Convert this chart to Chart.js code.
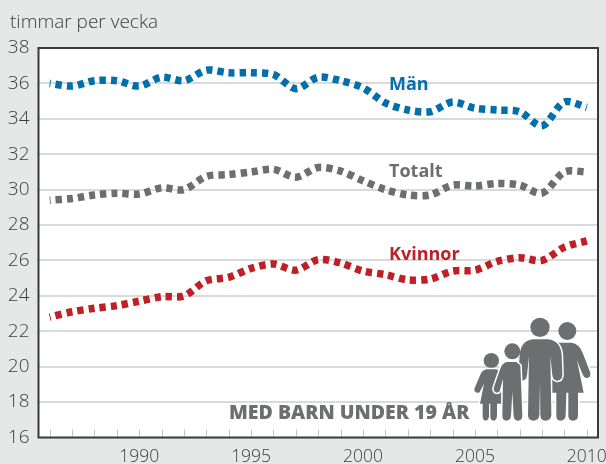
<!DOCTYPE html>
<html><head><meta charset="utf-8">
<style>html,body{margin:0;padding:0;background:#e6e7e7}canvas{display:block}</style>
<script src="https://cdn.jsdelivr.net/npm/chart.js@4"></script>
</head><body><div style="width:606px;height:464px"><canvas id="c" width="606" height="464"></canvas></div>
<script>
const years=[1986,1987,1988,1989,1990,1991,1992,1993,1994,1995,1996,1997,1998,1999,2000,2001,2002,2003,2004,2005,2006,2007,2008,2009,2010];
const man=[36.0,35.85,36.15,36.15,35.85,36.35,36.15,36.75,36.6,36.6,36.5,35.7,36.35,36.15,35.75,34.9,34.5,34.4,34.95,34.6,34.5,34.4,33.6,34.95,34.65];
const totalt=[29.4,29.5,29.7,29.8,29.75,30.1,30.0,30.75,30.85,31.0,31.15,30.7,31.25,31.05,30.5,30.0,29.7,29.7,30.25,30.2,30.35,30.25,29.8,31.0,31.0];
const kvinnor=[22.8,23.1,23.3,23.45,23.7,23.95,24.0,24.85,25.05,25.55,25.8,25.45,26.05,25.85,25.4,25.2,24.9,24.95,25.4,25.45,25.95,26.15,26.0,26.75,27.1];
const BLUE='#0070ac',GRAY='#6d6e70',RED='#bd2025';
const FONT='"Open Sans"';
function ds(label,data,color){return {label,data,borderColor:color,borderWidth:7.5,borderDash:[6.2,5],borderDashOffset:5.2,borderCapStyle:'butt',pointRadius:0,tension:0.3,fill:false};}
function person(ctx,head,body){
  ctx.beginPath();ctx.arc(head[0],head[1],head[2],0,Math.PI*2);ctx.fill();
  const p=new Path2D(body);
  ctx.save();ctx.strokeStyle='#fff';ctx.lineWidth=9;ctx.lineJoin='round';ctx.stroke(p);ctx.restore();
  ctx.fill(p);
}
const decor={id:'decor',
 beforeDraw(ch){const c=ch.ctx,a=ch.chartArea;c.save();c.fillStyle='#fff';c.fillRect(a.left,a.top,a.right-a.left,a.bottom-a.top);c.restore();},
 afterDatasetsDraw(ch){const c=ch.ctx,a=ch.chartArea,sx=ch.scales.x;c.save();
  c.strokeStyle='#c4c5c7';c.lineWidth=1;
  years.forEach((y,i)=>{const px=Math.round(sx.getPixelForTick(i))+0.5;c.beginPath();c.moveTo(px,a.bottom-8);c.lineTo(px,a.bottom);c.stroke();});
  c.strokeStyle='#3a3a3c';c.lineWidth=2;c.strokeRect(a.left,a.top,a.right-a.left,a.bottom-a.top);
  c.textBaseline='middle';c.textAlign='left';
  c.font='bold 18px '+FONT;
  c.fillStyle=BLUE;c.fillText('Män',389,85);
  c.fillStyle=GRAY;c.fillText('Totalt',389,172);
  c.fillStyle=RED;c.fillText('Kvinnor',389,255);
  c.fillStyle=GRAY;c.font='800 19.5px '+FONT;c.fillText('MED BARN UNDER 19 ÅR',229,413);
  c.fillStyle='#404041';c.font='300 19px '+FONT;c.textBaseline='alphabetic';c.fillText('timmar per vecka',10,28);
  c.translate(303,232);c.scale(1/3,1/3);c.fillStyle=GRAY;
  person(c,[793,297,27],'M765,332 L805,332 Q830,335 840,365 L862,422 Q864,438 850,438 Q842,436 838,425 L822,385 L842,482 L825,482 L825,552 Q824,566 810,566 Q797,566 796,552 L796,482 L790,482 L788,552 Q786,566 772,566 Q760,566 760,552 L760,482 L745,482 L745,332 Z');
  person(c,[711,286,29],'M690,322 L735,322 Q772,326 776,368 L778,430 Q776,447 761,446 Q750,444 748,430 L742,372 L745,550 Q743,566 727,566 Q713,566 712,550 L711,450 L709,550 Q707,566 691,566 Q676,566 675,550 L678,372 L672,430 Q670,447 655,446 Q645,442 646,430 L650,368 Q654,326 690,322 Z');
  person(c,[565,386,23],'M550,412 L580,412 Q592,415 598,440 L595,515 L582,515 L582,552 Q581,566 571,566 Q562,566 562,552 L562,515 L558,515 L558,552 Q557,566 548,566 Q539,566 539,552 L539,515 L531,515 L543,455 L530,480 Q522,486 515,478 Q512,472 516,466 L532,428 Q538,415 550,412 Z');
  person(c,[628,358,24],'M610,390 L640,390 L652,400 L658,552 Q657,566 645,566 Q633,566 632,552 L628,480 L624,552 Q622,566 610,566 Q599,566 598,552 L600,440 L590,478 Q582,486 574,478 Q570,472 574,462 L592,410 Q598,394 610,390 Z');
  c.restore();}
};
new Chart(document.getElementById('c'),{type:'line',
 data:{labels:years,datasets:[ds('Män',man,BLUE),ds('Totalt',totalt,GRAY),ds('Kvinnor',kvinnor,RED)]},
 plugins:[decor],
 options:{responsive:false,animation:false,
  layout:{padding:{top:48,right:8,left:0,bottom:0}},
  plugins:{legend:{display:false},tooltip:{enabled:false},title:{display:false}},
  scales:{
   x:{offset:true,
     afterFit(s){s.height=26.5;s.paddingLeft=0;s.paddingRight=0;},
     grid:{display:false,drawTicks:false},
     border:{display:false},
     ticks:{autoSkip:false,maxRotation:0,padding:9,color:'#404041',font:{family:FONT,size:17.5,weight:'300'},
       callback(v,i){const y=years[i];return y%5===0?String(y):'';}}},
   y:{min:16,max:38,
     afterFit(s){s.width=38.5;},
     grid:{color:'#d9dadb',lineWidth:2,drawTicks:false},
     border:{display:false},
     ticks:{stepSize:2,padding:9,color:'#404041',font:{family:FONT,size:19,weight:'300'}}}
  }}});
</script></body></html>
